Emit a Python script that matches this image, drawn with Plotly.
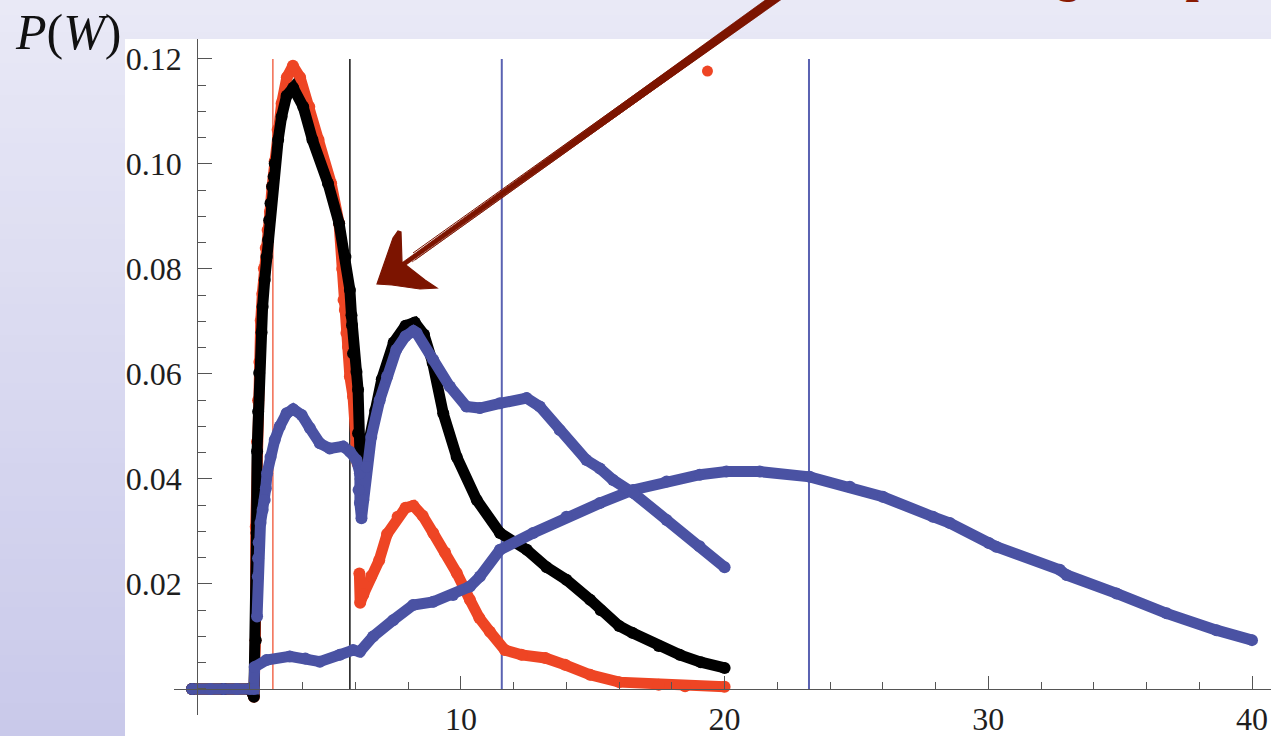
import plotly.graph_objects as go

# ---------------------------------------------------------------------------
# P(W) distributions: W values and probabilities for each curve
# ---------------------------------------------------------------------------
red_w = [-0.2, 1.0, 2.0, 2.15, 2.21, 2.22, 2.27, 2.31, 2.36, 2.41, 2.47, 2.53,
         2.6, 2.67, 2.76, 2.84, 2.94, 3.05, 3.2, 3.4, 3.63, 3.9, 4.25, 4.6,
         5.08, 5.38, 5.5, 5.55, 5.6, 5.66, 5.72, 5.79, 5.91, 6.04, 6.08, None,
         6.15, 6.18, 6.3, 6.6, 6.9, 7.2, 7.6, 7.9, 8.2, 8.55, 8.95, 9.4, 9.84,
         10.34, 10.7, 11.1, 11.67, 12.3, 13.2, 13.95, 14.9, 16.0, 17.5, 18.5, 20.0]
red_p = [0.0, 0.0, 0.0, -0.0015, 0.0093, 0.0309, 0.0471, 0.0550, 0.0623, 0.0702,
         0.0753, 0.0801, 0.0840, 0.0874, 0.0909, 0.0957, 0.1005, 0.1065, 0.1115,
         0.1165, 0.1187, 0.1165, 0.1109, 0.1046, 0.0963, 0.0887, 0.0800, 0.0741,
         0.0722, 0.0678, 0.0652, 0.0595, 0.0557, 0.0468, 0.0430, None,
         0.0220, 0.0164, 0.0180, 0.0215, 0.0245, 0.0295, 0.0328, 0.0345, 0.0349,
         0.0330, 0.0297, 0.0260, 0.0221, 0.0170, 0.0135, 0.0109, 0.0074, 0.0065,
         0.0059, 0.0046, 0.0027, 0.0013, 0.0008, 0.0005, 0.0004]

# isolated point of the red distribution
red_extra_w = [19.35]
red_extra_p = [0.1177]

black_w = [-0.2, 1.0, 2.0, 2.15, 2.22, 2.25, 2.27, 2.31, 2.35, 2.44, 2.48, 2.56,
           2.63, 2.69, 2.73, 2.78, 2.84, 2.9, 2.94, 3.07, 3.2, 3.39, 3.64, 4.02,
           4.37, 4.96, 5.38, 5.62, 5.79, 5.85, 5.87, 5.91, 6.04, 6.1, 6.1, 6.2,
           6.4, 6.75, 7.0, 7.45, 7.9, 8.25, 8.6, 8.93, 9.33, 9.84, 10.6, 11.48,
           12.5, 13.25, 14.0, 14.9, 15.3, 16.0, 16.5, 17.5, 18.3, 19.1, 20.0]
black_p = [0.0, 0.0, 0.0, -0.0015, 0.0093, 0.0297, 0.0453, 0.0528, 0.0602, 0.0679,
           0.0728, 0.0779, 0.0823, 0.0855, 0.0893, 0.0925, 0.0957, 0.0976, 0.1001,
           0.1046, 0.1090, 0.1130, 0.1145, 0.1109, 0.1046, 0.0963, 0.0887, 0.0823,
           0.0760, 0.0712, 0.0693, 0.0639, 0.0604, 0.0570, 0.0487, 0.0400, 0.0445,
           0.0530, 0.0590, 0.0660, 0.0692, 0.0698, 0.0675, 0.0621, 0.0525, 0.0442,
           0.0360, 0.0297, 0.0265, 0.0232, 0.0208, 0.0170, 0.0150, 0.0120, 0.0107,
           0.0082, 0.0065, 0.0051, 0.0040]

blue_short_w = [2.27, 2.3, 2.31, 2.33, 2.4, 2.48, 2.56, 2.6, 2.65, 2.78, 2.94, 3.13,
                3.39, 3.64, 3.96, 4.27, 4.65, 5.03, 5.53, 5.79, 6.04, 6.17, 6.12,
                6.17, 6.23, 6.3, 6.42, 6.6, 6.92, 7.2, 7.55, 7.9, 8.2, 8.32, 8.95,
                9.58, 10.21, 10.72, 11.48, 12.49, 12.99, 13.75, 14.76, 15.27, 15.77,
                16.55, 17.8, 19.05, 20.0]
blue_short_p = [0.0138, 0.0214, 0.0249, 0.0279, 0.0316, 0.0341, 0.0360, 0.0382,
                0.0411, 0.0442, 0.0474, 0.0500, 0.0525, 0.0533, 0.0522, 0.0497,
                0.0468, 0.0458, 0.0462, 0.0452, 0.0436, 0.0411, 0.0379, 0.0354,
                0.0325, 0.0360, 0.0423, 0.0480, 0.0550, 0.0595, 0.0646, 0.0672,
                0.0682, 0.0678, 0.0627, 0.0576, 0.0538, 0.0535, 0.0544, 0.0554,
                0.0538, 0.0493, 0.0436, 0.0420, 0.0398, 0.0373, 0.0322, 0.0272,
                0.0232]

blue_long_w = [-0.2, 0.5, 1.0, 1.5, 2.0, 2.15, 2.18, 2.63, 3.51, 4.1, 4.65, 5.41,
               5.91, 6.17, 6.67, 7.43, 8.19, 8.95, 9.7, 10.34, 10.72, 11.48, 12.74,
               14.0, 15.27, 16.53, 17.8, 19.06, 20.07, 21.33, 23.23, 24.75, 26.0,
               27.9, 28.54, 30.02, 30.3, 32.71, 32.97, 34.86, 36.76, 38.65, 40.0]
blue_long_p = [0.0, 0.0, 0.0, 0.0, 0.0, 0.0, 0.0042, 0.0055, 0.0062, 0.0058,
               0.0052, 0.0065, 0.0074, 0.0071, 0.0100, 0.0131, 0.0160, 0.0166,
               0.0179, 0.0195, 0.0214, 0.0265, 0.0297, 0.0328, 0.0354, 0.0379,
               0.0395, 0.0408, 0.0414, 0.0414, 0.0404, 0.0385, 0.0366, 0.0328,
               0.0316, 0.0278, 0.0271, 0.0227, 0.0217, 0.0182, 0.0144, 0.0112,
               0.0093]

# mean values marked by vertical rules
mean_w = [2.87, 5.79, 11.55, 23.2]
mean_top = 0.12

x_tick_vals = [10, 20, 30, 40]
y_tick_vals = [0.02, 0.04, 0.06, 0.08, 0.10, 0.12]

# ---------------------------------------------------------------------------
# styling
# ---------------------------------------------------------------------------
RED = "#ee4524"
BLACK = "#000000"
BLUE = "#4a52a3"
ARROW = "#7c1400"
AXIS = "#555555"
TICKFONT = dict(family="Liberation Serif", size=32, color="#1e1e1e")

W, H = 1271, 736
M_L, M_R, M_T, M_B = 174, 0, 39, 21
X_RANGE = [-0.88, 40.72]
Y_RANGE = [-0.00496, 0.1238]
PLOT_W = W - M_L - M_R
PLOT_H = H - M_T - M_B


def px_x(px):
    """Pixel column -> paper x."""
    return (px - M_L) / PLOT_W


def px_y(py):
    """Pixel row -> paper y."""
    return (H - M_B - py) / PLOT_H


fig = go.Figure()

marker_kw = dict(size=12)
line_kw = dict(width=11)

fig.add_trace(go.Scatter(x=red_w, y=red_p, mode="lines+markers",
                         line=dict(color=RED, **line_kw),
                         marker=dict(color=RED, **marker_kw),
                         connectgaps=False, showlegend=False, hoverinfo="skip"))
fig.add_trace(go.Scatter(x=red_extra_w, y=red_extra_p, mode="markers",
                         marker=dict(color=RED, size=11),
                         showlegend=False, hoverinfo="skip"))
fig.add_trace(go.Scatter(x=black_w, y=black_p, mode="lines+markers",
                         line=dict(color=BLACK, **line_kw),
                         marker=dict(color=BLACK, **marker_kw),
                         showlegend=False, hoverinfo="skip"))
fig.add_trace(go.Scatter(x=blue_long_w, y=blue_long_p, mode="lines+markers",
                         line=dict(color=BLUE, **line_kw),
                         marker=dict(color=BLUE, **marker_kw),
                         showlegend=False, hoverinfo="skip"))
fig.add_trace(go.Scatter(x=blue_short_w, y=blue_short_p, mode="lines+markers",
                         line=dict(color=BLUE, **line_kw),
                         marker=dict(color=BLUE, **marker_kw),
                         showlegend=False, hoverinfo="skip"))

shapes = []

# slide background: vertical lavender gradient
top_rgb = (233, 233, 246)
bot_rgb = (201, 201, 234)
n_bands = 46
band_h = H / n_bands
for i in range(n_bands):
    t = (i + 0.5) / n_bands
    c = tuple(round(a + (b - a) * t) for a, b in zip(top_rgb, bot_rgb))
    shapes.append(dict(type="rect", xref="paper", yref="paper", layer="below",
                       x0=px_x(-2), x1=px_x(W + 2),
                       y0=px_y((i + 1) * band_h + 0.5), y1=px_y(i * band_h - 0.5),
                       fillcolor="rgb(%d,%d,%d)" % c, line=dict(width=0)))

# white panel holding the plot
shapes.append(dict(type="rect", xref="paper", yref="paper", layer="below",
                   x0=px_x(125), x1=px_x(W + 2), y0=px_y(H + 2), y1=px_y(39),
                   fillcolor="white", line=dict(width=0)))

# vertical rules at the mean values
rule_styles = [(RED, 1.2), (BLACK, 1.4), ("#5a62b2", 2), ("#5a62b2", 2)]
for xv, (col, wd) in zip(mean_w, rule_styles):
    shapes.append(dict(type="line", xref="x", yref="y", layer="below",
                       x0=xv, x1=xv, y0=0, y1=mean_top,
                       line=dict(color=col, width=wd)))

# hand-drawn arrow pointing at the jump in the black curve
tip = (377, 284)
far = (840, -48)
join = (401, 266)


def seg_path(p0, p1, w0, w1):
    dx, dy = p1[0] - p0[0], p1[1] - p0[1]
    ln = (dx * dx + dy * dy) ** 0.5
    nx, ny = -dy / ln, dx / ln
    pts = [(p0[0] + nx * w0, p0[1] + ny * w0), (p1[0] + nx * w1, p1[1] + ny * w1),
           (p1[0] - nx * w1, p1[1] - ny * w1), (p0[0] - nx * w0, p0[1] - ny * w0)]
    return "M " + " L ".join("%.5f,%.5f" % (px_x(a), px_y(b)) for a, b in pts) + " Z"


shapes.append(dict(type="path", xref="paper", yref="paper", layer="above",
                   path=seg_path(join, far, 2.0, 4.8),
                   fillcolor=ARROW, line=dict(color=ARROW, width=0.8)))
for off, wd in [((0, -4), 1.0), ((2, 3), 0.9), ((-1, 5), 0.7)]:
    a = (join[0] + 12 + off[0], join[1] - 9 + off[1])
    b = (far[0] + off[0], far[1] + off[1])
    shapes.append(dict(type="line", xref="paper", yref="paper", layer="above",
                       x0=px_x(a[0]), y0=px_y(a[1]), x1=px_x(b[0]), y1=px_y(b[1]),
                       line=dict(color=ARROW, width=wd)))

head = [tip, (393, 238), (398, 231), (401, 232), (402, 262), (425, 280),
        (437, 288), (420, 289), (392, 285)]
shapes.append(dict(type="path", xref="paper", yref="paper", layer="above",
                   path="M " + " L ".join("%.5f,%.5f" % (px_x(a), px_y(b)) for a, b in head) + " Z",
                   fillcolor=ARROW, line=dict(color=ARROW, width=1.2)))

annotations = [
    dict(text="<i>P</i>(<i>W</i>)", xref="paper", yref="paper",
         x=px_x(13), y=px_y(2), xanchor="left", yanchor="top", showarrow=False,
         font=dict(family="Liberation Serif", size=50, color="#111111")),
    dict(text="<b>Missing bump</b>", xref="paper", yref="paper",
         x=px_x(1214), y=px_y(4), xanchor="right", yanchor="bottom", showarrow=False,
         font=dict(family="Liberation Serif", size=48, color="#8a1a02")),
]

x0_pos = (0 - X_RANGE[0]) / (X_RANGE[1] - X_RANGE[0])
y0_pos = (0 - Y_RANGE[0]) / (Y_RANGE[1] - Y_RANGE[0])

fig.update_layout(
    width=W, height=H,
    margin=dict(l=M_L, r=M_R, t=M_T, b=M_B, pad=0),
    paper_bgcolor="rgb(220,220,240)",
    plot_bgcolor="white",
    shapes=shapes,
    annotations=annotations,
    showlegend=False,
    xaxis=dict(range=X_RANGE, anchor="free", position=y0_pos,
               showline=True, linecolor=AXIS, linewidth=1.2,
               showgrid=False, zeroline=False,
               tickmode="array", tickvals=x_tick_vals,
               ticktext=[str(v) for v in x_tick_vals],
               ticks="inside", ticklen=13, tickwidth=1.2, tickcolor=AXIS,
               ticklabelstandoff=2, tickfont=TICKFONT,
               minor=dict(tickmode="linear", tick0=0, dtick=2, ticks="inside",
                          ticklen=7, tickwidth=1.2, tickcolor=AXIS, showgrid=False),
               automargin=False),
    yaxis=dict(range=Y_RANGE, anchor="free", position=x0_pos,
               showline=True, linecolor=AXIS, linewidth=1.2,
               showgrid=False, zeroline=False,
               tickmode="array", tickvals=y_tick_vals,
               ticktext=["%.2f" % v for v in y_tick_vals],
               ticks="inside", ticklen=14, tickwidth=1.2, tickcolor=AXIS,
               ticklabelstandoff=9, tickfont=TICKFONT,
               minor=dict(tickmode="linear", tick0=0, dtick=0.005, ticks="inside",
                          ticklen=8, tickwidth=1.2, tickcolor=AXIS, showgrid=False),
               automargin=False),
)

fig.write_html("out.html")
